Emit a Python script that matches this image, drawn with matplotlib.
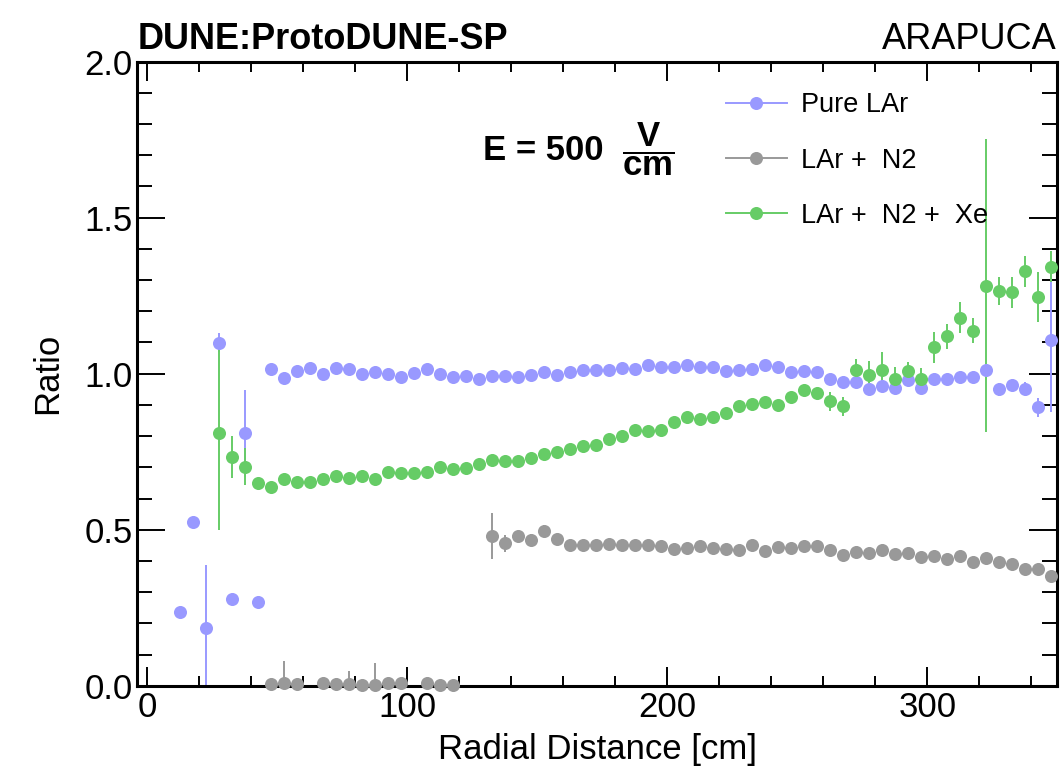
import numpy as np
import matplotlib
matplotlib.use("Agg")
import matplotlib.pyplot as plt
from matplotlib.lines import Line2D
from matplotlib.ticker import MultipleLocator

plt.rcParams["font.family"] = ["Liberation Sans", "DejaVu Sans"]
plt.rcParams["mathtext.fontset"] = "custom"
plt.rcParams["mathtext.rm"] = "Liberation Sans"
plt.rcParams["mathtext.bf"] = "Liberation Sans:bold"

## DATA
r = np.arange(12.5, 350, 5)  # radial bin centres [cm]
nan = np.nan

pure_lar = [0.236, 0.524, 0.186, 1.099, 0.277, 0.809, 0.269, 1.015, 0.986, 1.008,
            1.017, 0.998, 1.017, 1.014, 1.000, 1.004, 1.000, 0.989, 1.003, 1.014,
            1.000, 0.988, 0.993, 0.983, 0.994, 0.992, 0.989, 0.997, 1.004, 0.996,
            1.006, 1.012, 1.012, 1.013, 1.018, 1.015, 1.029, 1.021, 1.022, 1.029,
            1.021, 1.022, 1.010, 1.013, 1.016, 1.029, 1.021, 1.006, 1.009, 1.007,
            0.983, 0.975, 0.975, 0.950, 0.960, 0.955, 0.979, 0.955, 0.983, 0.983,
            0.988, 0.988, 1.011, 0.950, 0.964, 0.952, 0.892, 1.108]
pure_lar_err = [0.01, 0.01, 0.20, 0.03, 0.01, 0.14, 0.01, 0.01, 0.01, 0.01,
                0.01, 0.01, 0.01, 0.01, 0.01, 0.01, 0.01, 0.01, 0.01, 0.01,
                0.01, 0.01, 0.01, 0.01, 0.01, 0.01, 0.01, 0.01, 0.01, 0.01,
                0.01, 0.01, 0.01, 0.01, 0.01, 0.01, 0.01, 0.01, 0.01, 0.01,
                0.01, 0.01, 0.01, 0.01, 0.01, 0.01, 0.01, 0.01, 0.01, 0.01,
                0.01, 0.01, 0.01, 0.01, 0.01, 0.01, 0.01, 0.01, 0.01, 0.01,
                0.01, 0.01, 0.012, 0.02, 0.015, 0.02, 0.03, 0.23]

lar_n2 = [nan, nan, nan, nan, nan, nan, nan, 0.005, 0.008, 0.005,
          nan, 0.008, 0.005, 0.006, 0.003, 0.003, 0.008, 0.010, nan, 0.010,
          0.003, 0.003, nan, nan, 0.480, 0.456, 0.480, 0.467, 0.496, 0.470,
          0.450, 0.452, 0.452, 0.454, 0.452, 0.452, 0.452, 0.448, 0.438, 0.441,
          0.447, 0.441, 0.438, 0.435, 0.450, 0.432, 0.443, 0.440, 0.447, 0.447,
          0.435, 0.419, 0.428, 0.426, 0.435, 0.421, 0.424, 0.414, 0.416, 0.405,
          0.417, 0.395, 0.409, 0.397, 0.389, 0.373, 0.373, 0.351]
lar_n2_err = [nan, nan, nan, nan, nan, nan, nan, 0.01, 0.07, 0.01,
              nan, 0.01, 0.01, 0.04, 0.01, 0.07, 0.01, 0.01, nan, 0.01,
              0.01, 0.01, nan, nan, 0.075, 0.027, 0.012, 0.02, 0.02, 0.012,
              0.01, 0.01, 0.01, 0.01, 0.01, 0.01, 0.01, 0.01, 0.01, 0.01,
              0.01, 0.01, 0.01, 0.01, 0.01, 0.01, 0.01, 0.01, 0.01, 0.01,
              0.01, 0.01, 0.01, 0.01, 0.01, 0.01, 0.01, 0.01, 0.01, 0.01,
              0.01, 0.01, 0.01, 0.01, 0.01, 0.01, 0.01, 0.01]

lar_n2_xe = [nan, nan, nan, 0.809, 0.733, 0.702, 0.650, 0.638, 0.663, 0.653,
             0.654, 0.661, 0.672, 0.667, 0.671, 0.661, 0.686, 0.681, 0.681, 0.685,
             0.701, 0.694, 0.699, 0.712, 0.722, 0.719, 0.720, 0.730, 0.743, 0.749,
             0.760, 0.768, 0.771, 0.792, 0.800, 0.821, 0.816, 0.818, 0.844, 0.860,
             0.856, 0.860, 0.873, 0.895, 0.902, 0.909, 0.901, 0.924, 0.948, 0.938,
             0.912, 0.895, 1.011, 0.995, 1.011, 0.982, 1.009, 0.982, 1.084, 1.120,
             1.180, 1.138, 1.282, 1.266, 1.261, 1.328, 1.247, 1.343]
lar_n2_xe_err = [nan, nan, nan, 0.31, 0.067, 0.06, 0.012, 0.012, 0.012, 0.012,
                 0.012, 0.012, 0.012, 0.012, 0.012, 0.012, 0.012, 0.012, 0.012, 0.012,
                 0.012, 0.012, 0.012, 0.012, 0.012, 0.012, 0.012, 0.012, 0.012, 0.012,
                 0.012, 0.012, 0.012, 0.012, 0.012, 0.012, 0.012, 0.012, 0.012, 0.012,
                 0.012, 0.012, 0.012, 0.012, 0.012, 0.012, 0.012, 0.015, 0.015, 0.015,
                 0.03, 0.03, 0.035, 0.045, 0.06, 0.038, 0.03, 0.035, 0.05, 0.04,
                 0.05, 0.04, 0.47, 0.045, 0.05, 0.05, 0.08, 0.05]

labels = ["Pure LAr", "LAr +  N2", "LAr +  N2 +  Xe"]
colors = ["#9999ff", "#999999", "#66cc66"]
series = [(pure_lar, pure_lar_err), (lar_n2, lar_n2_err), (lar_n2_xe, lar_n2_xe_err)]

## FIGURE
fig = plt.figure(figsize=(10.61, 7.67), dpi=100)
ax = fig.add_axes([137 / 1061, 1 - 685.7 / 767, 920.3 / 1061, 624 / 767])

ms = 9.4
for (vals, errs), c in zip(series, colors):
    vals = np.array(vals)
    errs = np.array(errs)
    ax.errorbar(r, vals, yerr=errs, fmt="none", ecolor=c, elinewidth=1.4, capsize=0)
    ax.plot(r, vals, "o", color=c, ms=ms, mew=0, clip_on=False, zorder=3)

ax.set_xlim(-4, 350)
ax.set_ylim(0, 2)

ax.xaxis.set_major_locator(MultipleLocator(100))
ax.xaxis.set_minor_locator(MultipleLocator(20))
ax.yaxis.set_major_locator(MultipleLocator(0.5))
ax.yaxis.set_minor_locator(MultipleLocator(0.1))
ax.yaxis.set_major_formatter(lambda v, p: "%.1f" % v)

ax.tick_params(which="both", direction="in", top=True, right=True, width=1.4,
               labelsize=25, colors="black")
ax.tick_params(axis="x", which="major", length=14, pad=4)
ax.tick_params(axis="x", which="minor", length=7)
ax.tick_params(axis="y", which="major", length=20, pad=3)
ax.tick_params(axis="y", which="minor", length=10.5)
for s in ax.spines.values():
    s.set_linewidth(2.2)

ax.set_xlabel("Radial Distance [cm]", fontsize=25)
ax.set_ylabel("Ratio", fontsize=25)
ax.xaxis.set_label_coords(0.5, -0.075)
ax.yaxis.set_label_coords(-0.0797, 0.5)

handles = [Line2D([], [], color=c, marker="o", ms=ms, mew=0, lw=1.4) for c in colors]
ax.legend(handles, labels, loc="upper left", bbox_to_anchor=(0.640, 0.951),
          frameon=False, fontsize=19.5, borderpad=0, borderaxespad=0,
          handlelength=2.24, handletextpad=0.54, labelspacing=1.08)

# field label
fig.text(483 / 1061, 1 - 150 / 767, "E = 500", fontsize=25, fontweight="bold",
         ha="left", va="center")
fig.text(648 / 1061, 1 - 149 / 767, r"$\mathbf{\dfrac{V}{cm}}$", fontsize=25,
         ha="center", va="center")

fig.text(138 / 1061, 1 - 49 / 767, "DUNE:ProtoDUNE-SP", fontsize=26,
         fontweight="bold", ha="left", va="baseline")
fig.text(1057 / 1061, 1 - 49 / 767, "ARAPUCA", fontsize=26, ha="right", va="baseline")

fig.savefig("out.png", dpi=100)
